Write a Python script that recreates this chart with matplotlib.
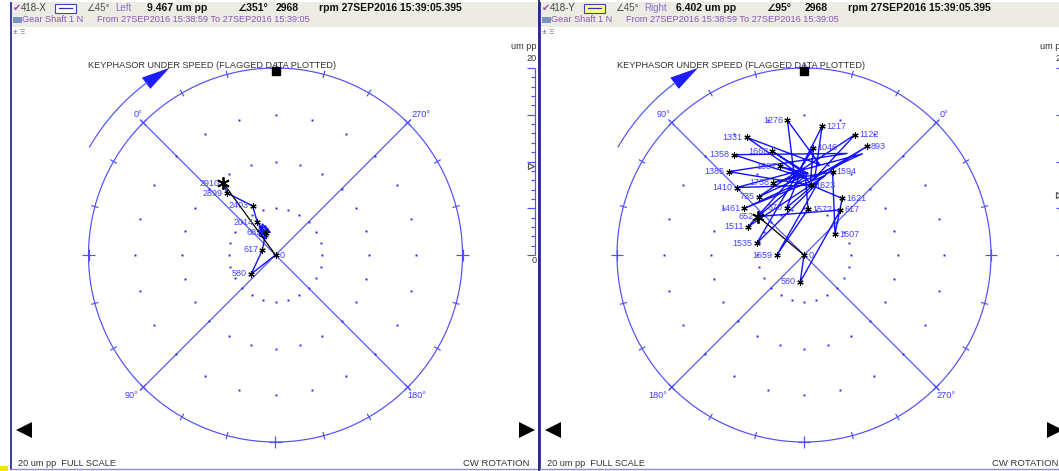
import numpy as np
import matplotlib.pyplot as plt
from matplotlib.patches import Rectangle, Polygon

plt.rcParams['font.family'] = ['Liberation Sans', 'DejaVu Sans']

# ---- readings shown in the two headers ----
probes = ['418-X', '418-Y']
sides = ['Left', 'Right']
probe_angle = 45
amp_now = [9.467, 6.402]
phase_now = [351, 95]
rpm_now = 2968
stamp = '27SEP2016 15:39:05.395'
span_from = '27SEP2016 15:38:59'
span_to = '27SEP2016 15:39:05'
machine = 'Gear Shaft 1 N'
full_scale = 20  # um pp

# spoke labels: top-left, bottom-left, bottom-right, top-right
spokes = [['0°', '90°', '180°', '270°'],
          ['90°', '180°', '270°', '0°']]
phase_zero = [135, 45]  # screen angle of phase 0 (deg, ccw from 3 o'clock)

# ---- 1X vectors 418-X : rpm tag ('' = untagged sample), amplitude um pp, phase deg ----
x_rpm = ['0', '580', '617', '682', '', '', '', '', '', '', '', '', '', '', '', '',
         '', '', '', '', '', '',
         '2014', '2403', '2899', '2910']
x_amp = [0.0, 3.3, 1.5, 2.6, 2.4, 3.1, 2.2, 2.9, 3.4, 2.0, 2.7, 3.6, 2.5, 3.0, 2.3, 3.3,
         2.8, 3.2, 2.1, 3.5, 2.6, 2.9,
         4.0, 5.8, 8.4, 9.467]
x_phase = [0, 83, 24, 339, 336, 347, 351, 331, 342, 344, 355, 338, 328, 349, 340, 334,
           333, 352, 338, 345, 347, 340,
           344, 340, 353, 351]

# ---- 1X vectors 418-Y ----
y_rpm = ['0', '580', '617', '652', '', '735', '', '870', '', '893', '', '1046', '', '1122',
         '', '1217', '', '1276', '', '1331', '', '1358', '', '1385', '', '1410', '', '1461',
         '', '1511', '', '1535', '', '1559', '1572', '', '1594', '1607', '1621', '1623', '',
         '1668', '', '1687', '', '1738', '']
y_amp = [0.0, 2.9, 6.2, 6.4, 8.6, 7.9, 9.3, 5.4, 9.6, 13.4, 8.0, 11.5, 8.9, 14.0,
         8.3, 13.9, 8.1, 14.5, 9.8, 14.0, 8.2, 13.1, 11.8, 12.0, 7.5, 10.2, 12.5, 8.1,
         8.8, 6.7, 9.1, 5.2, 7.9, 2.9, 4.9, 8.4, 9.4, 4.0, 7.3, 7.5, 9.0,
         11.6, 8.7, 9.8, 8.5, 8.4, 8.8]
y_phase = [0, 217, 6, 95, 43, 83, 46, 65, 27, 15, 40, 40, 49, 22,
           37, 37, 52, 52, 35, 71, 44, 80, 22, 87, 40, 90, 15, 97,
           30, 108, 48, 121, 34, 135, 40, 44, 26, 349, 11, 39, 47,
           62, 42, 60, 45, 68, 43]

# ---- screen layout (pixels) ----
W, H = 1059, 471
panel_left = [11, 540]
panel_right = [538, 1059]
centre_x = [275.5, 804]
centre_y = 255
S = 9.35  # px per um

CIRC = '#4f4fff'
DATA = '#1212ff'
LBL = '#4444ff'


def cosd(a):
    return np.cos(np.deg2rad(a))


def sind(a):
    return np.sin(np.deg2rad(a))


fig = plt.figure(figsize=(W / 100, H / 100), dpi=100)
bg = fig.add_axes([0, 0, 1, 1], zorder=0)
bg.set_xlim(0, W)
bg.set_ylim(H, 0)
bg.axis('off')


def header(i):
    x0 = panel_left[i]
    bg.add_patch(Rectangle((x0 + 1, 2), panel_right[i] - x0 - 1, 25, color='#ecebe4', lw=0))
    bg.plot([x0, x0], [3, 469], color='#3c3ca0', lw=1.4)
    bg.plot([x0, panel_right[i]], [469, 469], color='#8c8ce6', lw=1)
    kw = dict(va='center', fontsize=7.5)
    bg.text(x0 + 2, 8, '✔', color='#a048a8', fontsize=7, va='center')
    bg.text(x0 + 10, 8, probes[i], color='#444444', fontsize=7, va='center')
    bg.add_patch(Rectangle((x0 + 44, 3.5), 21, 9, fc=['white', '#ffff88'][i], ec='#4040c0', lw=0.8))
    bg.plot([x0 + 48, x0 + 61], [8, 8], color='#3030c0', lw=0.9)
    bg.text(x0 + 75, 8, f'∠{probe_angle}°', color='#555555', fontsize=7, va='center')
    bg.text(x0 + 104, 8, sides[i], color='#8a70c8', fontsize=7, va='center')
    bg.text(x0 + 136, 8, f'{amp_now[i]:.3f} um pp', color='#111111', weight='bold', **kw)
    bg.text(x0 + 226, 8, f'∠{phase_now[i]}°', color='#111111', weight='bold', **kw)
    bg.text(x0 + 265, 8, f'{rpm_now}', color='#111111', weight='bold', **kw)
    bg.text(x0 + 308, 8, f'rpm {stamp}', color='#111111', weight='bold', **kw)
    bg.add_patch(Rectangle((x0 + 2, 17), 9, 6, color='#7a92c4', lw=0))
    bg.text(x0 + 11, 20, machine, color='#8a58b4', fontsize=6.6, va='center')
    bg.text(x0 + 86, 20, f'From {span_from} To {span_to}', color='#8a58b4', fontsize=6.6, va='center')
    bg.text(x0 + 2, 33, '± Ξ', color='#666666', fontsize=6, va='center')
    bg.text(x0 + 7, 464, f'{full_scale} um pp  FULL SCALE', color='#333333', fontsize=6.6, va='center')
    bg.text(x0 + 452, 464, 'CW ROTATION', color='#333333', fontsize=6.8, va='center')


def panel(i, rpm, amp, phase):
    x0, x1, y0, y1 = panel_left[i] + 1, panel_right[i], 28, 468
    ax = fig.add_axes([x0 / W, 1 - y1 / H, (x1 - x0) / W, (y1 - y0) / H], zorder=1)
    ax.set_xlim((x0 - centre_x[i]) / S, (x1 - centre_x[i]) / S)
    ax.set_ylim((centre_y - y1) / S, (centre_y - y0) / S)
    ax.axis('off')
    R = full_scale
    lk = dict(color=CIRC, lw=0.85, solid_capstyle='butt')

    t = np.linspace(0, 360, 721)
    ax.plot(R * cosd(t), R * sind(t), **lk)
    for a in (45, 135):
        r = R + 0.5
        ax.plot([-r * cosd(a), r * cosd(a)], [-r * sind(a), r * sind(a)], **lk)
    for a in range(0, 360, 15):
        c, s = cosd(a), sind(a)
        L = 0.65 if a % 90 == 0 else 0.4
        ax.plot([(R - L) * c, (R + L) * c], [(R - L) * s, (R + L) * s], **lk)
        if a % 45 == 0:
            T = 0.65 if a % 90 == 0 else 0.45
            ax.plot([R * c - T * s, R * c + T * s], [R * s + T * c, R * s - T * c], **lk)
    ang = np.arange(0, 360, 15)
    for r in (5, 10, 15):
        ax.plot(r * cosd(ang), r * sind(ang), ls='none', marker='s', ms=1.4, mew=0, color='#2424ff')
    ax.plot([0], [R - 0.35], marker='s', ms=6, color='black', zorder=6)

    # rotation arrow
    ra = 23
    ta = np.linspace(150, 126.5, 40)
    ax.plot(ra * cosd(ta), ra * sind(ta), **lk)
    ax.add_patch(Polygon([[ra * cosd(119.5), ra * sind(119.5)],
                          [(ra - 0.75) * cosd(127), (ra - 0.75) * sind(127)],
                          [(ra + 0.75) * cosd(127), (ra + 0.75) * sind(127)]],
                         closed=True, color='#1c1cff', lw=0))

    d = R / np.sqrt(2)
    sk = dict(color='#3a3aff', fontsize=6.6)
    ax.text(-d - 0.1, d + 0.45, spokes[i][0], ha='right', va='bottom', **sk)
    ax.text(-d - 0.5, -d - 0.4, spokes[i][1], ha='right', va='top', **sk)
    ax.text(d, -d - 0.4, spokes[i][2], ha='left', va='top', **sk)
    ax.text(d + 0.4, d + 0.45, spokes[i][3], ha='left', va='bottom', **sk)

    ax.text(-20.05, 20.3, 'KEYPHASOR UNDER SPEED (FLAGGED DATA PLOTTED)', color='#333333',
            fontsize=6.6, va='center', ha='left')

    # full-scale bar on the right
    xb = 27.75
    ax.plot([xb, xb], [0, R], **lk)
    for v in range(0, R + 1):
        L = 0.85 if v % 5 == 0 else 0.45
        ax.plot([xb - L, xb], [v, v], **lk)
    ax.text(xb + 0.2, R + 2.25, 'um pp', ha='right', va='center', fontsize=6.6, color='#333333')
    ax.text(xb + 0.2, R + 1.05, f'{R}', ha='right', va='center', fontsize=6.6, color='#333333')
    ax.text(xb + 0.2, -0.55, '0', ha='right', va='center', fontsize=6.6, color='#333333')
    ax.plot([xb - 0.45], [amp_now[i]], marker='>', ms=5, mfc='white', mec='#555555', mew=0.9)

    ax.plot([-26.85], [-18.7], marker='<', ms=11, color='black', mew=0)
    ax.plot([26.85], [-18.7], marker='>', ms=11, color='black', mew=0)

    # data
    th = phase_zero[i] + np.asarray(phase, dtype=float)
    x = np.asarray(amp) * cosd(th)
    y = np.asarray(amp) * sind(th)
    ax.plot(x, y, color=DATA, lw=1.0, zorder=4)
    tagged = [k for k, s in enumerate(rpm) if s]
    ax.plot(x[tagged], y[tagged], ls='none', marker=(6, 2, 0), ms=4.5, mec='black', mew=0.8, zorder=6)
    for k in tagged:
        right = x[k] >= -0.01
        ax.text(x[k] + (0.45 if right else -0.45), y[k], rpm[k], ha='left' if right else 'right',
                va='center', fontsize=6.5, color=LBL, zorder=7)
    xn = amp_now[i] * cosd(phase_zero[i] + phase_now[i])
    yn = amp_now[i] * sind(phase_zero[i] + phase_now[i])
    ax.plot([0, xn], [0, yn], color='black', lw=0.9, zorder=5)
    ax.plot([xn], [yn], marker=(6, 2, 0), ms=9, mec='black', mew=1.3, zorder=8)


for i in range(2):
    header(i)
panel(0, x_rpm, x_amp, x_phase)
panel(1, y_rpm, y_amp, y_phase)
bg.plot([538.5, 538.5], [0, H], color='#2c2c78', lw=1.4)
bg.add_patch(Rectangle((0, 466), 8, 5, color='#f2e21a', lw=0))

fig.savefig('out.png', dpi=100, facecolor='white')
